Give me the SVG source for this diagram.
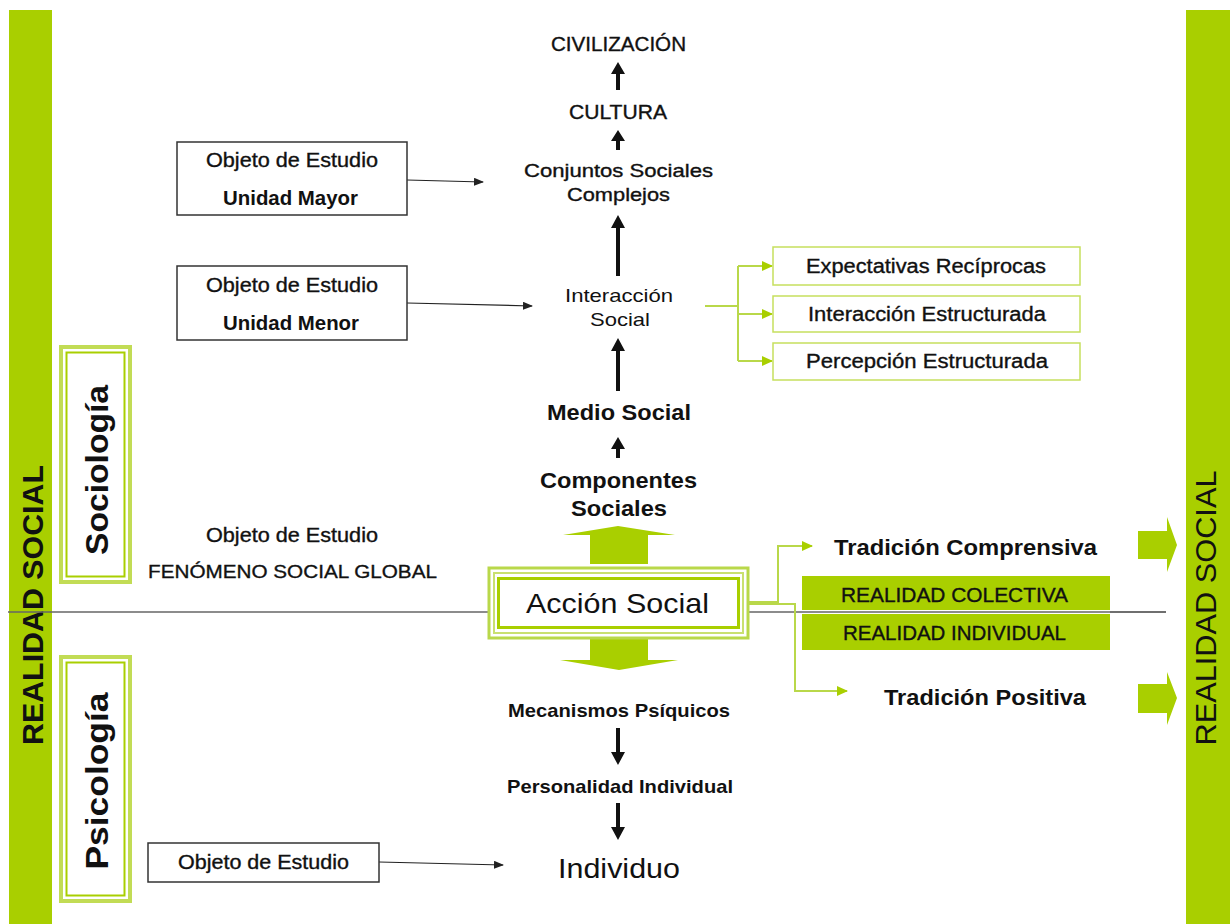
<svg xmlns="http://www.w3.org/2000/svg" width="1230" height="924" viewBox="0 0 1230 924">
<defs>
<style>
.t{font-family:"Liberation Sans",Arial,sans-serif;fill:#111;text-anchor:middle}
.m{stroke:#111;stroke-width:0.35}
.b{font-weight:bold}
.box{fill:#fff;stroke:#333;stroke-width:1.5}
.gbox{fill:#fff;stroke:#c6df5e;stroke-width:1.5}
.thin{stroke:#222;stroke-width:1.2;fill:none}
.gl{stroke:#b9d84a;stroke-width:2;fill:none}
.green{fill:#a9cf00}
</style>
<marker id="ah" markerWidth="10" markerHeight="8" refX="9" refY="4" orient="auto" markerUnits="userSpaceOnUse"><path d="M0,0 L10,4 L0,8 z" fill="#222"/></marker>
<marker id="gh" markerWidth="11" markerHeight="10" refX="10" refY="5" orient="auto" markerUnits="userSpaceOnUse"><path d="M0,0 L11,5 L0,10 z" fill="#a9cf00"/></marker>
</defs>
<rect width="1230" height="924" fill="#fff"/>

<g id="left-bar">
<rect x="9" y="10" width="43" height="914" class="green"/>
<text class="t b" font-size="29" textLength="280" lengthAdjust="spacingAndGlyphs" transform="translate(43,605) rotate(-90)">REALIDAD SOCIAL</text>
</g>
<g id="right-bar">
<rect x="1186" y="10" width="44" height="914" class="green"/>
<text class="t" font-size="29" textLength="275" lengthAdjust="spacingAndGlyphs" transform="translate(1216,608) rotate(-90)">REALIDAD SOCIAL</text>
</g>

<g id="divider"><line x1="8" y1="612" x2="1166" y2="612" stroke="#666" stroke-width="1.5"/></g>

<g id="sociologia">
<rect x="61" y="347" width="69" height="235" fill="#fff" stroke="#c2dc55" stroke-width="4"/>
<rect x="66.5" y="352.5" width="58" height="224" fill="#fff" stroke="#a9cf00" stroke-width="2"/>
<text class="t b" font-size="32" textLength="170" lengthAdjust="spacingAndGlyphs" transform="translate(108,470) rotate(-90)">Sociología</text>
</g>
<g id="psicologia">
<rect x="61" y="657" width="69" height="244" fill="#fff" stroke="#c2dc55" stroke-width="4"/>
<rect x="66.5" y="662.5" width="58" height="233" fill="#fff" stroke="#a9cf00" stroke-width="2"/>
<text class="t b" font-size="32" textLength="177" lengthAdjust="spacingAndGlyphs" transform="translate(108,781) rotate(-90)">Psicología</text>
</g>

<g id="connectors">
<line x1="407" y1="180" x2="483" y2="182" class="thin" marker-end="url(#ah)"/>
<line x1="407" y1="303" x2="532" y2="306" class="thin" marker-end="url(#ah)"/>
<line x1="379" y1="862" x2="503" y2="865" class="thin" marker-end="url(#ah)"/>
<path d="M705,306 H738" class="gl"/>
<path d="M738,266 V361" class="gl"/>
<path d="M738,266 H772" class="gl" marker-end="url(#gh)"/>
<path d="M738,314 H772" class="gl" marker-end="url(#gh)"/>
<path d="M738,361 H772" class="gl" marker-end="url(#gh)"/>
<path d="M747,602 H778 V546 H812" class="gl" marker-end="url(#gh)"/>
<path d="M747,604 H795 V691 H847" class="gl" marker-end="url(#gh)"/>
<g fill="#111">
<path d="M616,90 V74 H611 L618,62 L625,74 H620 V90 z"/>
<path d="M616,150 V141 H611 L618,130 L625,141 H620 V150 z"/>
<path d="M616,276 V228 H611 L618,215 L625,228 H620 V276 z"/>
<path d="M616,391 V351 H611 L618,338 L625,351 H620 V391 z"/>
<path d="M616,458 V449 H611 L618,437 L625,449 H620 V458 z"/>
<path d="M616,728 V752 H611 L618,765 L625,752 H620 V728 z"/>
<path d="M616,803 V827 H611 L618,840 L625,827 H620 V803 z"/>
</g>
<path class="green" d="M590,564 V535 H563 L618,526 L675,535 H648 V564 z"/>
<path class="green" d="M590,637 V660 H560 L619,670 L678,660 H648 V637 z"/>
<path class="green" d="M1138,531 H1167 V517 L1177,545 L1167,572 V559 H1138 z"/>
<path class="green" d="M1138,684 H1167 V672 L1177,698 L1167,725 V713 H1138 z"/>
</g>

<g id="civilizacion"><text class="t m" font-size="19.5" x="618.5" y="51" textLength="135" lengthAdjust="spacingAndGlyphs">CIVILIZACIÓN</text></g>
<g id="cultura"><text class="t m" font-size="19.5" x="618" y="118.5" textLength="98" lengthAdjust="spacingAndGlyphs">CULTURA</text></g>
<g id="conjuntos"><text class="t m" font-size="18.5" x="618.5" y="177" textLength="189" lengthAdjust="spacingAndGlyphs">Conjuntos Sociales</text><text class="t m" font-size="18.5" x="618.5" y="201" textLength="103" lengthAdjust="spacingAndGlyphs">Complejos</text></g>
<g id="interaccion"><text class="t" font-size="18.5" x="619" y="302" textLength="108" lengthAdjust="spacingAndGlyphs">Interacción</text><text class="t" font-size="18.5" x="620" y="326" textLength="60" lengthAdjust="spacingAndGlyphs">Social</text></g>
<g id="medio"><text class="t b" font-size="22" x="619" y="420" textLength="144" lengthAdjust="spacingAndGlyphs">Medio Social</text></g>
<g id="componentes"><text class="t b" font-size="22" x="618.5" y="488" textLength="157" lengthAdjust="spacingAndGlyphs">Componentes</text><text class="t b" font-size="22" x="619" y="516" textLength="96" lengthAdjust="spacingAndGlyphs">Sociales</text></g>

<g id="obj-mayor"><rect x="177" y="142" width="230" height="73" class="box"/>
<text class="t m" font-size="19.5" x="292" y="167" textLength="172" lengthAdjust="spacingAndGlyphs">Objeto de Estudio</text><text class="t b" font-size="19.5" x="290.5" y="205" textLength="135" lengthAdjust="spacingAndGlyphs">Unidad Mayor</text></g>
<g id="obj-menor"><rect x="177" y="266" width="230" height="74" class="box"/>
<text class="t m" font-size="19.5" x="292" y="292" textLength="172" lengthAdjust="spacingAndGlyphs">Objeto de Estudio</text><text class="t b" font-size="19.5" x="291" y="330" textLength="136" lengthAdjust="spacingAndGlyphs">Unidad Menor</text></g>
<g id="obj-global"><text class="t m" font-size="19.5" x="292" y="542" textLength="172" lengthAdjust="spacingAndGlyphs">Objeto de Estudio</text><text class="t m" font-size="19" x="292.5" y="578" textLength="289" lengthAdjust="spacingAndGlyphs">FENÓMENO SOCIAL GLOBAL</text></g>

<g id="expectativas"><rect x="773" y="247" width="307" height="38" class="gbox"/><text class="t m" font-size="19.5" x="926" y="273" textLength="240" lengthAdjust="spacingAndGlyphs">Expectativas Recíprocas</text></g>
<g id="int-estructurada"><rect x="773" y="296" width="307" height="36" class="gbox"/><text class="t m" font-size="19.5" x="927" y="321" textLength="238" lengthAdjust="spacingAndGlyphs">Interacción Estructurada</text></g>
<g id="per-estructurada"><rect x="773" y="343" width="307" height="37" class="gbox"/><text class="t m" font-size="19.5" x="927" y="368" textLength="242" lengthAdjust="spacingAndGlyphs">Percepción Estructurada</text></g>

<g id="accion-social">
<rect x="489" y="568" width="259" height="70" fill="#fff" stroke="#b9d84a" stroke-width="3"/>
<rect x="494" y="573" width="249" height="60" fill="none" stroke="#c9e070" stroke-width="2"/>
<rect x="498.5" y="578.5" width="240" height="49" fill="#fff" stroke="#a9cf00" stroke-width="3"/>
<text class="t" font-size="28" x="617.5" y="613" textLength="183" lengthAdjust="spacingAndGlyphs">Acción Social</text>
</g>

<g id="realidad-box">
<rect x="802" y="576" width="308" height="74" class="green"/>
<line x1="802" y1="612" x2="1110" y2="612" stroke="#fff" stroke-width="4"/>
<line x1="802" y1="612" x2="1166" y2="612" stroke="#666" stroke-width="1.5"/>
<text class="t m" font-size="20" x="954.5" y="602" textLength="227" lengthAdjust="spacingAndGlyphs">REALIDAD COLECTIVA</text>
<text class="t m" font-size="20" x="954.5" y="640" textLength="223" lengthAdjust="spacingAndGlyphs">REALIDAD INDIVIDUAL</text>
</g>
<g id="trad-comp"><text class="t b" font-size="21.5" x="965.5" y="555" textLength="263" lengthAdjust="spacingAndGlyphs">Tradición Comprensiva</text></g>
<g id="trad-pos"><text class="t b" font-size="21.5" x="985" y="705" textLength="202" lengthAdjust="spacingAndGlyphs">Tradición Positiva</text></g>

<g id="mecanismos"><text class="t b" font-size="19" x="619" y="717" textLength="222" lengthAdjust="spacingAndGlyphs">Mecanismos Psíquicos</text></g>
<g id="personalidad"><text class="t b" font-size="19" x="620" y="793" textLength="226" lengthAdjust="spacingAndGlyphs">Personalidad Individual</text></g>
<g id="individuo"><text class="t" font-size="28" x="619" y="878" textLength="122" lengthAdjust="spacingAndGlyphs">Individuo</text></g>
<g id="obj-individuo"><rect x="148" y="843" width="231" height="39" class="box"/><text class="t m" font-size="19.5" x="263.5" y="869" textLength="171" lengthAdjust="spacingAndGlyphs">Objeto de Estudio</text></g>
</svg>
